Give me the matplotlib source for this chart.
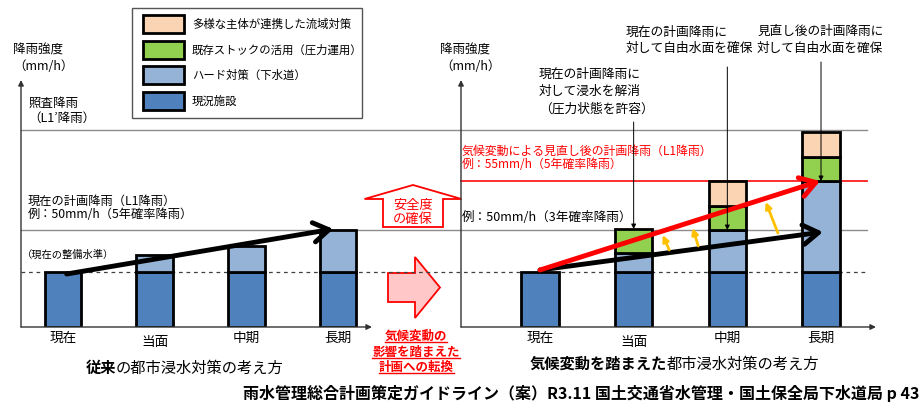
import matplotlib.pyplot as plt
from matplotlib import transforms
from matplotlib.patches import Rectangle, FancyArrow

plt.rcParams['font.family'] = ['Noto Sans CJK JP', 'DejaVu Sans']

# rainfall levels (height above the x axis, same scale in both charts)
level_now = 55       # current service level (dashed)
level_l1 = 97        # current plan rainfall 50mm/h
level_l1_new = 146   # revised plan rainfall 55mm/h
level_l1_dash = 197  # check rainfall L1'

periods = ['現在', '当面', '中期', '長期']

# left chart: conventional approach
old_existing = [55, 55, 55, 55]
old_hard = [0, 17, 26, 42]

# right chart: approach considering climate change
new_existing = [55, 55, 55, 55]
new_hard = [0, 19, 42, 91]
new_stock = [0, 24, 24, 24]
new_basin = [0, 0, 25, 25]

legend_labels = ['多様な主体が連携した流域対策', '既存ストックの活用（圧力運用）',
                 'ハード対策（下水道）', '現況施設']
c_basin = '#FBD4B4'
c_stock = '#92D050'
c_hard = '#95B3D7'
c_exist = '#4F81BD'
legend_colors = [c_basin, c_stock, c_hard, c_exist]

fig = plt.figure(figsize=(9.22, 4.04), dpi=100)

# overlay in pixel coordinates for texts and decorations
ov = fig.add_axes([0, 0, 1, 1], zorder=0)
ov.set_xlim(0, 922)
ov.set_ylim(404, 0)
ov.axis('off')

axL = fig.add_axes([21 / 922, 77 / 404, 351 / 922, 247 / 404], zorder=1)
axR = fig.add_axes([461 / 922, 77 / 404, 415 / 922, 247 / 404], zorder=1)
axL.set_xlim(-0.458, 3.371)
axR.set_xlim(-0.843, 3.587)
for ax in (axL, axR):
    ax.set_ylim(0, 247)
    ax.axis('off')

# horizontal reference levels crossing both charts
trans = transforms.blended_transform_factory(ov.transData, axL.transData)
ov.plot([21, 867], [level_l1_dash] * 2, color='#8c8c8c', lw=1, transform=trans)
ov.plot([21, 867], [level_l1] * 2, color='#8c8c8c', lw=1, transform=trans)
ov.plot([21, 867], [level_now] * 2, color='#404040', lw=0.9, ls=(0, (3, 3)), transform=trans)
ov.plot([461, 867], [level_l1_new] * 2, color='#FF2020', lw=1.3, transform=trans)


def stacked(ax, layers, colors):
    bottom = [0] * len(periods)
    for vals, col in zip(layers, colors):
        idx = [i for i, v in enumerate(vals) if v > 0]
        ax.bar(idx, [vals[i] for i in idx], width=0.4, bottom=[bottom[i] for i in idx],
               color=col, edgecolor='black', linewidth=2, zorder=3)
        bottom = [b + v for b, v in zip(bottom, vals)]


stacked(axL, [old_existing, old_hard], [c_exist, c_hard])
stacked(axR, [new_existing, new_hard, new_stock, new_basin], [c_exist, c_hard, c_stock, c_basin])

# axes with arrows
for ax in (axL, axR):
    ax.annotate('', xy=(0, 1), xytext=(0, 0), xycoords='axes fraction',
                arrowprops=dict(arrowstyle='-|>', color='#333333', lw=1, mutation_scale=8,
                                shrinkA=0, shrinkB=0))
    ax.annotate('', xy=(1, 0), xytext=(0, 0), xycoords='axes fraction',
                arrowprops=dict(arrowstyle='-|>', color='#333333', lw=1, mutation_scale=8,
                                shrinkA=0, shrinkB=0))

# category labels
for ax in (axL, axR):
    for i, p in enumerate(periods):
        ax.text(i, -15 if i == 1 else -11, p, ha='center', va='center', fontsize=9.8)

# trend arrows
big = dict(arrowstyle='->,head_length=0.55,head_width=0.35', lw=3.5, shrinkA=0, shrinkB=0,
           mutation_scale=20)
axL.annotate('', xy=(2.95, 98), xytext=(0.04, 53), arrowprops=dict(color='black', **big), zorder=5)
axR.annotate('', xy=(3.02, 95), xytext=(0.0, 57), arrowprops=dict(color='black', **big), zorder=5)
axR.annotate('', xy=(2.99, level_l1_new), xytext=(0.0, 57),
             arrowprops=dict(color='#FF0000', **big), zorder=6)

# orange arrows (black line -> red line)
orange = [((1.38, 77), (1.31, 92)), ((1.69, 81), (1.63, 99)), ((2.54, 94), (2.41, 125))]
for start, end in orange:
    axR.annotate('', xy=end, xytext=start,
                 arrowprops=dict(arrowstyle='-|>', color='#FFC000', lw=2, mutation_scale=9,
                                 shrinkA=0, shrinkB=0), zorder=6)

# pointer lines from the notes
notes = [(1, 205, 98), (2, 260, level_l1), (3, 265, level_l1_new)]
for x, ytop, ybot in notes:
    axR.annotate('', xy=(x, ybot), xytext=(x, ytop), annotation_clip=False,
                 arrowprops=dict(arrowstyle='-|>', color='black', lw=0.7, mutation_scale=7,
                                 shrinkA=0, shrinkB=0), zorder=7)

# legend box
ov.add_patch(Rectangle((132, 8), 230, 110, fill=False, edgecolor='#555555', lw=1))
for k, (lab, col) in enumerate(zip(legend_labels, legend_colors)):
    yc = 24 + k * 25.7
    ov.add_patch(Rectangle((143, yc - 9), 41, 18, facecolor=col, edgecolor='black', lw=2))
    ov.text(192, yc, lab, va='center', ha='left', fontsize=8.2)

# left chart texts
ov.text(13, 50, '降雨強度', va='center', fontsize=9)
ov.text(13, 66, '（mm/h）', va='center', fontsize=9)
ov.text(28, 103, '照査降雨', va='center', fontsize=9)
ov.text(28, 118, '（L1’降雨）', va='center', fontsize=9)
ov.text(28, 201, '現在の計画降雨（L1降雨）', va='center', fontsize=8.8)
ov.text(28, 215, '例：50mm/h（5年確率降雨）', va='center', fontsize=8.8)
ov.text(22, 255, '（現在の整備水準）', va='center', fontsize=7.4)

# right chart texts
ov.text(440, 50, '降雨強度', va='center', fontsize=9)
ov.text(440, 67, '（mm/h）', va='center', fontsize=9)
ov.text(462, 151, '気候変動による見直し後の計画降雨（L1降雨）', va='center', fontsize=8.6, color='#FF0000')
ov.text(462, 165, '例：55mm/h（5年確率降雨）', va='center', fontsize=8.6, color='#FF0000')
ov.text(462, 217, '例：50mm/h（3年確率降雨）', va='center', fontsize=9.1)
ov.text(539, 74, '現在の計画降雨に', va='center', fontsize=9.2)
ov.text(539, 91, '対して浸水を解消', va='center', fontsize=9.2)
ov.text(539, 109, '（圧力状態を許容）', va='center', fontsize=9.2)
ov.text(626, 32, '現在の計画降雨に', va='center', fontsize=9.2)
ov.text(626, 48, '対して自由水面を確保', va='center', fontsize=9.2)
ov.text(757, 31, '見直し後の計画降雨に', va='center', fontsize=9.1)
ov.text(757, 48, '対して自由水面を確保', va='center', fontsize=9.1)

# middle arrows
ov.add_patch(FancyArrow(413, 227, 0, -42, width=60, head_width=97, head_length=14,
                        length_includes_head=True, facecolor='white', edgecolor='#FF0000', lw=1.3))
ov.text(413, 205, '安全度', ha='center', va='center', fontsize=9.5, color='#FF0000')
ov.text(413, 219, 'の確保', ha='center', va='center', fontsize=9.5, color='#FF0000')
ov.add_patch(FancyArrow(388, 287.5, 52, 0, width=29, head_width=61, head_length=25,
                        length_includes_head=True, facecolor='#FFC7C7', edgecolor='#FF0000', lw=1.3))

mid_texts = []
for yy, s in zip([336, 352, 367], ['気候変動の', '影響を踏まえた', '計画への転換']):
    mid_texts.append(ov.text(416, yy, s, ha='center', va='center', fontsize=9,
                             fontweight='bold', color='#FF0000'))

# titles
ov.text(116, 368, '従来', ha='right', va='center', fontsize=11, fontweight='bold')
ov.text(116, 368, 'の都市浸水対策の考え方', ha='left', va='center', fontsize=11)
ov.text(667, 364, '気候変動を踏まえた', ha='right', va='center', fontsize=11, fontweight='bold')
ov.text(667, 364, '都市浸水対策の考え方', ha='left', va='center', fontsize=11)

ov.text(919, 393, '雨水管理総合計画策定ガイドライン（案）R3.11 国土交通省水管理・国土保全局下水道局 p 43',
        ha='right', va='center', fontsize=11.5, fontweight='bold')

# underline the red middle text
fig.canvas.draw()
r = fig.canvas.get_renderer()
inv = ov.transData.inverted()
for t in mid_texts:
    bb = t.get_window_extent(r)
    (x0, y0), (x1, y1) = inv.transform([[bb.x0, bb.y0], [bb.x1, bb.y1]])
    ov.plot([x0, x1], [max(y0, y1) - 1] * 2, color='#FF0000', lw=1)

fig.savefig('out.png', dpi=100)
